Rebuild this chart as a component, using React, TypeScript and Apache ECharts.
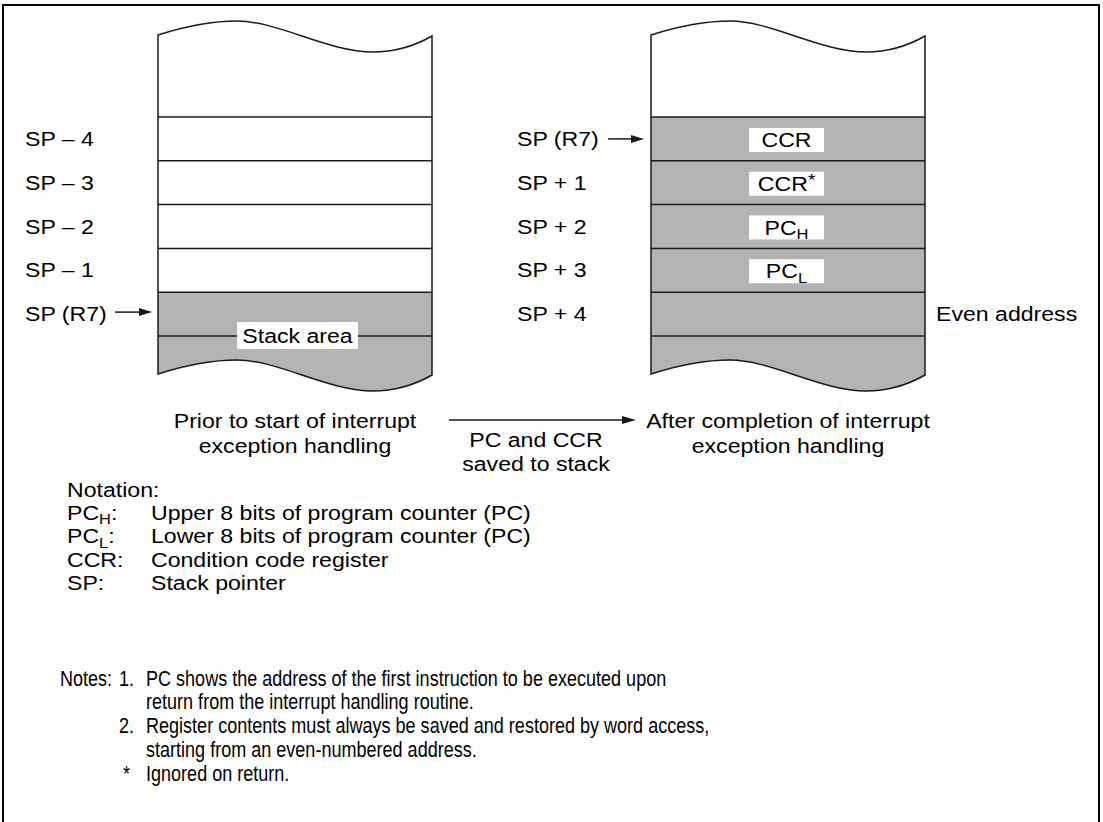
import React, { useEffect, useRef } from "react";
import * as echarts from "echarts";

// ---- content ----
const leftLabels = ["SP – 4", "SP – 3", "SP – 2", "SP – 1", "SP (R7)"];
const rightLabels = ["SP (R7)", "SP + 1", "SP + 2", "SP + 3", "SP + 4"];
// [main, small, kind]
const rightContents: [string, string, string][] = [
  ["CCR", "", ""],
  ["CCR", "*", "sup"],
  ["PC", "H", "sub"],
  ["PC", "L", "sub"],
];
const notationRows: [string, string, string][] = [
  ["PC", "H", "Upper 8 bits of program counter (PC)"],
  ["PC", "L", "Lower 8 bits of program counter (PC)"],
  ["CCR", "", "Condition code register"],
  ["SP", "", "Stack pointer"],
];
const noteLines: [string, string][] = [
  ["1.", "PC shows the address of the first instruction to be executed upon"],
  ["", "return from the interrupt handling routine."],
  ["2.", "Register contents must always be saved and restored by word access,"],
  ["", "starting from an even-numbered address."],
  ["*", "Ignored on return."],
];
const captionLeft = ["Prior to start of interrupt", "exception handling"];
const captionRight = ["After completion of interrupt", "exception handling"];
const captionMid = ["PC and CCR", "saved to stack"];

// ---- shapes ----
const WAVE_TOP = "M0,35 C25,27 55,21 79,21 C120,21 170,52 215,52 C240,52 260,44 274,36";
const FULL_BOX =
  WAVE_TOP + " L274,375 C260,383 240,391 215,391 C170,391 120,360 79,360 C55,360 25,366 0,374 Z";
const CAP = WAVE_TOP + " L274,117 L0,117 Z";
echarts.graphic.registerShape("stackBox", echarts.graphic.extendPath(FULL_BOX, {}));
echarts.graphic.registerShape("stackCap", echarts.graphic.extendPath(CAP, {}));

const FONT = "Liberation Sans, Arial, Helvetica, sans-serif";
const FS = 21;
const SX = 1.1;
const NOTE_FS = 22;
const NOTE_SX = 0.82;
const GRAY = "#b3b3b3";
const INK = "#1a1a1a";

let _ctx: CanvasRenderingContext2D | null = null;
function measure(s: string, size: number, family: string) {
  if (!_ctx) _ctx = document.createElement("canvas").getContext("2d");
  _ctx!.font = `${size}px ${family}`;
  return _ctx!.measureText(s).width;
}

function txt(x: number, y: number, s: string, o: any = {}) {
  return {
    type: "text",
    x,
    y,
    scaleX: o.scaleX ?? SX,
    z: 10,
    style: {
      text: s,
      fontSize: o.size ?? FS,
      fontFamily: o.family ?? FONT,
      fill: "#000",
      align: o.align ?? "left",
      verticalAlign: "middle",
    },
  };
}

function arrow(x1: number, x2: number, y: number, head = 13) {
  return [
    { type: "line", z: 5, shape: { x1, y1: y, x2: x2 - head + 1, y2: y }, style: { stroke: INK, lineWidth: 1.5 } },
    {
      type: "polygon",
      z: 5,
      shape: { points: [[x2 - head, y - 4], [x2, y], [x2 - head, y + 4]] },
      style: { fill: INK },
    },
  ];
}

const ROW_TOP = 117;
const ROW_H = 43.8;
const BOX_W = 274;

function box(L: number, grayStart: number) {
  const els: any[] = [];
  els.push({ type: "stackBox", x: L, y: 0, z: 1, style: { fill: GRAY, stroke: null } });
  els.push({ type: "stackCap", x: L, y: 0, z: 2, style: { fill: "#fff", stroke: null } });
  if (grayStart > ROW_TOP) {
    els.push({ type: "rect", z: 2, shape: { x: L, y: ROW_TOP, width: BOX_W, height: grayStart - ROW_TOP }, style: { fill: "#fff" } });
  }
  for (let i = 0; i <= 5; i++) {
    const y = ROW_TOP + i * ROW_H;
    els.push({ type: "line", z: 3, shape: { x1: L, y1: y, x2: L + BOX_W, y2: y }, style: { stroke: INK, lineWidth: 1.5 } });
  }
  els.push({ type: "stackBox", x: L, y: 0, z: 4, style: { fill: "none", stroke: INK, lineWidth: 1.5 } });
  return els;
}

function rowMid(i: number) {
  return ROW_TOP + (i + 0.5) * ROW_H;
}

function buildGraphics() {
  const els: any[] = [];
  // frame
  els.push({ type: "rect", z: 0, shape: { x: 3, y: 5, width: 1096, height: 900 }, style: { fill: "none", stroke: "#000", lineWidth: 2 } });

  const LL = 158;
  const RL = 651;
  els.push(...box(LL, ROW_TOP + 4 * ROW_H));
  els.push(...box(RL, ROW_TOP));

  // left labels
  leftLabels.forEach((s, i) => els.push(txt(25, rowMid(i), s)));
  els.push(...arrow(115, 152, rowMid(4) - 2));
  // stack area
  const saY = ROW_TOP + 5 * ROW_H;
  els.push({ type: "rect", z: 8, shape: { x: 237, y: saY - 14, width: 121, height: 27 }, style: { fill: "#fff" } });
  els.push(txt(297.5, saY, "Stack area", { align: "center" }));

  // right labels
  rightLabels.forEach((s, i) => els.push(txt(517, rowMid(i), s)));
  els.push(...arrow(608, 644, rowMid(0)));
  els.push(txt(936, rowMid(4), "Even address"));

  // right contents
  const cx = 786.5;
  rightContents.forEach(([main, small, kind], i) => {
    const y = rowMid(i) + 1;
    els.push({ type: "rect", z: 8, shape: { x: cx - 37.5, y: y - 12, width: 75, height: 24 }, style: { fill: "#fff" } });
    const smallSize = kind === "sup" ? 17 : 15;
    const wMain = measure(main, FS, FONT) * SX;
    const wSmall = small ? measure(small, smallSize, FONT) * SX : 0;
    const x0 = cx - (wMain + wSmall) / 2;
    els.push(txt(x0, y, main));
    if (small) {
      els.push(txt(x0 + wMain, kind === "sup" ? y - 3 : y + 6.5, small, { size: smallSize }));
    }
  });

  // captions
  captionLeft.forEach((s, i) => els.push(txt(295, 421 + i * 25, s, { align: "center" })));
  captionRight.forEach((s, i) => els.push(txt(788, 421 + i * 25, s, { align: "center" })));
  captionMid.forEach((s, i) => els.push(txt(536, 440 + i * 24, s, { align: "center" })));
  els.push(...arrow(449, 636, 420, 14));

  // notation
  els.push(txt(67, 490, "Notation:"));
  notationRows.forEach(([a, sub, desc], i) => {
    const y = 513 + i * 23.3;
    els.push(txt(67, y, a));
    let x = 67 + measure(a, FS, FONT) * SX;
    if (sub) {
      els.push(txt(x, y + 6, sub, { size: 15 }));
      x += measure(sub, 15, FONT) * SX;
    }
    els.push(txt(x, y, ":"));
    els.push(txt(151, y, desc));
  });

  // notes (condensed face)
  const nopt = { size: NOTE_FS, scaleX: NOTE_SX };
  els.push(txt(60, 678, "Notes:", nopt));
  noteLines.forEach(([n, s], i) => {
    const y = 678 + i * 23.8;
    if (n) els.push(txt(n === "*" ? 123 : 119, y, n, nopt));
    els.push(txt(146, y, s, nopt));
  });
  return els;
}

export default function App() {
  const ref = useRef<HTMLDivElement>(null);
  useEffect(() => {
    document.body.style.margin = "0";
    const chart = echarts.init(ref.current!, null, { renderer: "svg" });
    chart.setOption({
      animation: false,
      backgroundColor: "#fff",
      graphic: { elements: buildGraphics() },
    });
    return () => chart.dispose();
  }, []);
  return <div ref={ref} style={{ position: "absolute", left: 0, top: 0, width: 1103, height: 822 }} />;
}
